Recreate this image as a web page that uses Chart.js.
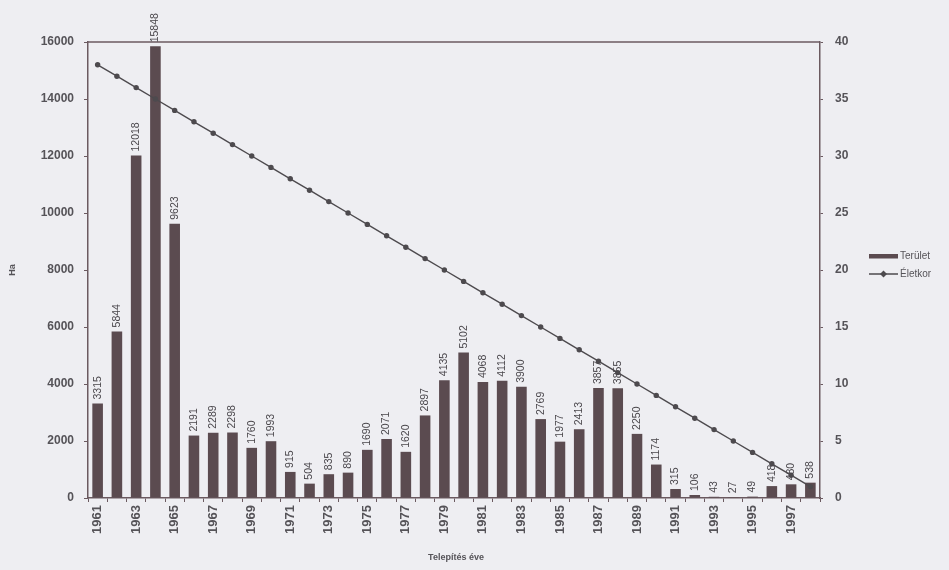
<!DOCTYPE html>
<html>
<head>
<meta charset="utf-8">
<script src="https://cdn.jsdelivr.net/npm/chart.js@4/dist/chart.umd.min.js"></script>
<style>
  html, body { margin: 0; padding: 0; background: #eeeef2; }
  #wrap { width: 949px; height: 570px; }
</style>
</head>
<body>
<div id="wrap"><canvas id="c" width="949" height="570"></canvas></div>
<script>
// Telepítés éve (planting year)
const years = [1961,1962,1963,1964,1965,1966,1967,1968,1969,1970,1971,1972,1973,1974,1975,1976,1977,1978,1979,1980,
               1981,1982,1983,1984,1985,1986,1987,1988,1989,1990,1991,1992,1993,1994,1995,1996,1997,1998];
// Terület (Ha) per planting year
const terulet = [3315,5844,12018,15848,9623,2191,2289,2298,1760,1993,915,504,835,890,1690,2071,1620,2897,4135,5102,
                 4068,4112,3900,2769,1977,2413,3857,3855,2250,1174,315,106,43,27,49,418,480,538];
// Életkor (years of age)
const eletkor = [38,37,36,35,34,33,32,31,30,29,28,27,26,25,24,23,22,21,20,19,
                 18,17,16,15,14,13,12,11,10,9,8,7,6,5,4,3,2,1];
const leftTicks = [0,2000,4000,6000,8000,10000,12000,14000,16000];
const rightTicks = [0,5,10,15,20,25,30,35,40];

const axisColor = '#6b5a60';
const barColor = '#5b4b50';
const lineColor = '#4d4a4e';
const textColor = '#555358';
const tickFont = { family: 'Liberation Sans', size: 12, weight: 'bold' };

const decorations = {
  id: 'decorations',
  afterDatasetsDraw(chart) {
    const ctx = chart.ctx;
    const area = chart.chartArea;
    // top frame line
    ctx.save();
    ctx.strokeStyle = axisColor;
    ctx.lineWidth = 1.5;
    ctx.beginPath();
    ctx.moveTo(area.left, area.top);
    ctx.lineTo(area.right, area.top);
    ctx.stroke();
    ctx.restore();

    // value labels above bars, rotated
    const meta = chart.getDatasetMeta(0);
    ctx.save();
    ctx.font = '10.5px "Liberation Sans"';
    ctx.fillStyle = '#4a474c';
    ctx.textAlign = 'left';
    ctx.textBaseline = 'middle';
    meta.data.forEach((bar, i) => {
      ctx.save();
      ctx.translate(bar.x, bar.y - 4);
      ctx.rotate(-Math.PI / 2);
      ctx.fillText(String(terulet[i]), 0, 0);
      ctx.restore();
    });
    ctx.restore();
  },
  afterDraw(chart) {
    const ctx = chart.ctx;
    const area = chart.chartArea;
    ctx.save();
    ctx.fillStyle = textColor;
    // y axis title
    ctx.font = 'bold 9px "Liberation Sans"';
    ctx.textAlign = 'center';
    ctx.textBaseline = 'middle';
    ctx.save();
    ctx.translate(13, (area.top + area.bottom) / 2);
    ctx.rotate(-Math.PI / 2);
    ctx.fillText('Ha', 0, 0);
    ctx.restore();
    // x axis title
    ctx.fillText('Telepítés éve', 456, 558);

    // legend
    const lx = 869, lw = 29;
    ctx.font = '10px "Liberation Sans"';
    ctx.textAlign = 'left';
    ctx.fillStyle = barColor;
    ctx.fillRect(lx, 254, lw, 4.5);
    ctx.fillStyle = textColor;
    ctx.fillText(chart.data.datasets[0].label, lx + lw + 2, 256.5);
    ctx.strokeStyle = lineColor;
    ctx.lineWidth = 1.5;
    ctx.beginPath();
    ctx.moveTo(lx, 274);
    ctx.lineTo(lx + lw, 274);
    ctx.stroke();
    ctx.fillStyle = lineColor;
    ctx.beginPath();
    ctx.moveTo(lx + lw / 2, 270.5);
    ctx.lineTo(lx + lw / 2 + 3.5, 274);
    ctx.lineTo(lx + lw / 2, 277.5);
    ctx.lineTo(lx + lw / 2 - 3.5, 274);
    ctx.closePath();
    ctx.fill();
    ctx.fillStyle = textColor;
    ctx.fillText(chart.data.datasets[1].label, lx + lw + 2, 274.5);
    ctx.restore();
  }
};

new Chart(document.getElementById('c'), {
  type: 'bar',
  data: {
    labels: years.map(String),
    datasets: [
      {
        type: 'bar',
        label: 'Terület',
        data: terulet,
        yAxisID: 'y',
        backgroundColor: barColor,
        borderWidth: 0,
        categoryPercentage: 1,
        barPercentage: 0.55,
        order: 1
      },
      {
        type: 'line',
        label: 'Életkor',
        data: eletkor,
        yAxisID: 'y1',
        borderColor: lineColor,
        borderWidth: 1.4,
        backgroundColor: lineColor,
        pointStyle: 'circle',
        pointRadius: 2.7,
        pointBorderWidth: 0,
        tension: 0,
        order: 0
      }
    ]
  },
  options: {
    responsive: false,
    animation: false,
    devicePixelRatio: 1,
    layout: { padding: { top: 42, left: 0, right: 0, bottom: 0 } },
    plugins: {
      legend: { display: false },
      tooltip: { enabled: false }
    },
    scales: {
      x: {
        offset: true,
        grid: { display: true, drawOnChartArea: false, drawTicks: true, tickLength: 4, color: axisColor, offset: true },
        border: { display: true, color: axisColor, width: 1.5 },
        ticks: {
          autoSkip: false,
          maxRotation: 90,
          minRotation: 90,
          color: textColor,
          font: { family: 'Liberation Sans', size: 13, weight: 'bold' },
          padding: 3,
          callback: (v, i) => (i % 2 === 0 ? String(years[i]) : '')
        },
        afterFit: s => { s.height = 72; }
      },
      y: {
        position: 'left',
        min: 0,
        max: 16000,
        afterBuildTicks: s => { s.ticks = leftTicks.map(v => ({ value: v })); },
        grid: { display: true, drawOnChartArea: false, drawTicks: true, tickLength: 4, color: axisColor },
        border: { display: true, color: axisColor, width: 1.5 },
        ticks: { color: textColor, font: tickFont, padding: 10, callback: v => String(v) },
        afterFit: s => { s.width = 88; }
      },
      y1: {
        position: 'right',
        min: 0,
        max: 40,
        afterBuildTicks: s => { s.ticks = rightTicks.map(v => ({ value: v })); },
        grid: { display: true, drawOnChartArea: false, drawTicks: true, tickLength: 3, color: axisColor },
        border: { display: true, color: axisColor, width: 1.5 },
        ticks: { color: textColor, font: tickFont, padding: 12, callback: v => String(v) },
        afterFit: s => { s.width = 129; }
      }
    }
  },
  plugins: [decorations]
});
</script>
</body>
</html>
